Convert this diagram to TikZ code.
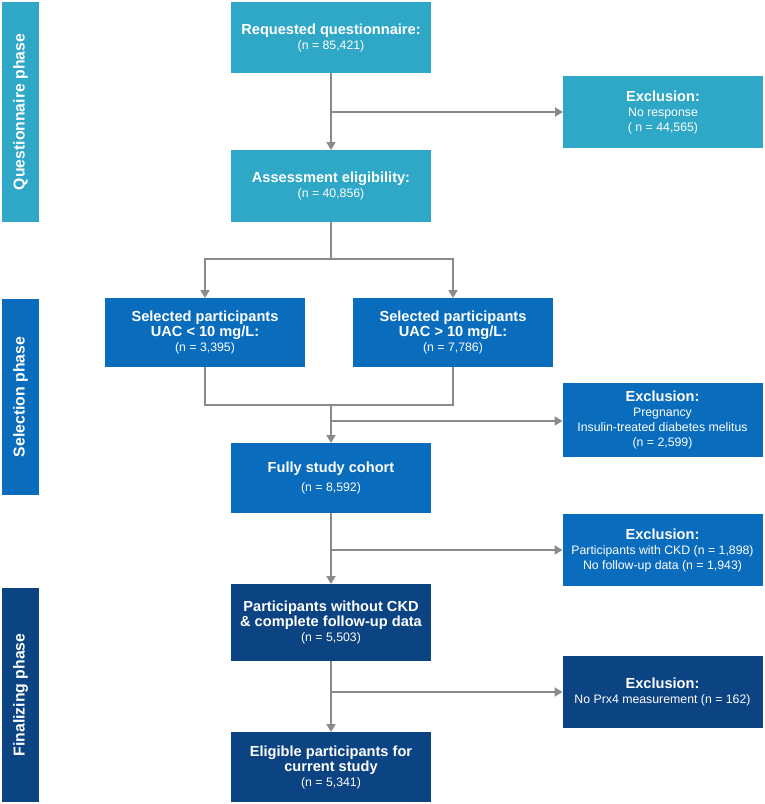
\documentclass[tikz,border=0pt]{standalone}
\usepackage{fontspec}
\setmainfont{Liberation Sans}
\usetikzlibrary{arrows.meta}
\definecolor{cteal}{HTML}{2FA7C7}
\definecolor{cblue}{HTML}{0A6CBC}
\definecolor{cnavy}{HTML}{0C4382}
\definecolor{cline}{HTML}{8A8A8A}
\tikzset{
  box/.style={draw=none, text=white, inner sep=0pt, outer sep=0pt,
    minimum width=200pt, align=center, font=\fontsize{12.3}{15}\selectfont},
  tealbox/.style={box, fill=cteal},
  bluebox/.style={box, fill=cblue},
  navybox/.style={box, fill=cnavy},
  phasebar/.style={draw=none, inner sep=0pt, outer sep=0pt, text=white,
    minimum width=37pt, rotate=90, font=\bfseries\fontsize{15.8}{18}\selectfont},
  conn/.style={draw=cline, line width=1.8pt},
  arr/.style={conn, -{Triangle[width=9pt,length=8pt]}},
}
\newcommand{\hd}[1]{{\bfseries\fontsize{14.6}{17}\selectfont #1}}
\begin{document}
\begin{tikzpicture}[x=1pt,y=-1pt]
\useasboundingbox (0,0) rectangle (764,804);
% phase bars
\node[phasebar, fill=cteal, minimum height=37pt, minimum width=220pt] (p1) at (20.5,112) {Questionnaire phase};
\node[phasebar, fill=cblue, minimum height=37pt, minimum width=196pt] (p2) at (20.5,397) {Selection phase};
\node[phasebar, fill=cnavy, minimum height=37pt, minimum width=214pt] (p3) at (20.5,695) {Finalizing phase};
% main column
\node[tealbox, minimum height=71pt] (req) at (331,37.5) {\hd{Requested questionnaire:}\\(n = 85,421)};
\node[tealbox, minimum height=72pt] (ass) at (331,186) {\hd{Assessment eligibility:}\\(n = 40,856)};
\node[bluebox, minimum height=69pt] (selA) at (205,332.5) {\hd{Selected participants}\\\hd{UAC < 10 mg/L:}\\(n = 3,395)};
\node[bluebox, minimum height=69pt] (selB) at (453,332.5) {\hd{Selected participants}\\\hd{UAC > 10 mg/L:}\\(n = 7,786)};
\node[bluebox, minimum height=70pt] (full) at (331,478) {\hd{Fully study cohort}\\[4pt](n = 8,592)};
\node[navybox, minimum height=77pt] (nockd) at (331,622.5) {\hd{Participants without CKD}\\\hd{\& complete follow-up data}\\(n = 5,503)};
\node[navybox, minimum height=70pt] (elig) at (331,767) {\hd{Eligible participants for}\\\hd{current study}\\(n = 5,341)};
% exclusion boxes
\node[tealbox, minimum height=72pt] (ex1) at (663,112) {\hd{Exclusion:}\\No response\\( n = 44,565)};
\node[bluebox, minimum height=74pt] (ex2) at (662.5,420) {\hd{Exclusion:}\\Pregnancy\\Insulin-treated diabetes melitus\\(n = 2,599)};
\node[bluebox, minimum height=72pt] (ex3) at (662.5,550) {\hd{Exclusion:}\\Participants with CKD (n = 1,898)\\No follow-up data (n = 1,943)};
\node[navybox, minimum height=72pt] (ex4) at (662.5,692) {\hd{Exclusion:}\\No Prx4 measurement (n = 162)};
% connectors
\coordinate (b1) at (req.south |- ex1.west);
\draw[arr] (req.south) -- (ass.north);
\draw[arr] (b1) -- (ex1.west);
\coordinate (s1) at (331,259);
\draw[conn] (ass.south) -- (s1);
\draw[arr] (s1) -| (selA.north);
\draw[arr] (s1) -| (selB.north);
\coordinate (j1) at (331,405);
\draw[conn] (selA.south) |- (j1);
\draw[conn] (selB.south) |- (j1);
\draw[arr] (j1) -- (full.north);
\coordinate (b2) at (331,421);
\draw[arr] (b2) -- (b2 -| ex2.west);
\draw[arr] (full.south) -- (nockd.north);
\coordinate (b3) at (full.south |- ex3.west);
\draw[arr] (b3) -- (ex3.west);
\draw[arr] (nockd.south) -- (elig.north);
\coordinate (b4) at (nockd.south |- ex4.west);
\draw[arr] (b4) -- (ex4.west);
\end{tikzpicture}
\end{document}
